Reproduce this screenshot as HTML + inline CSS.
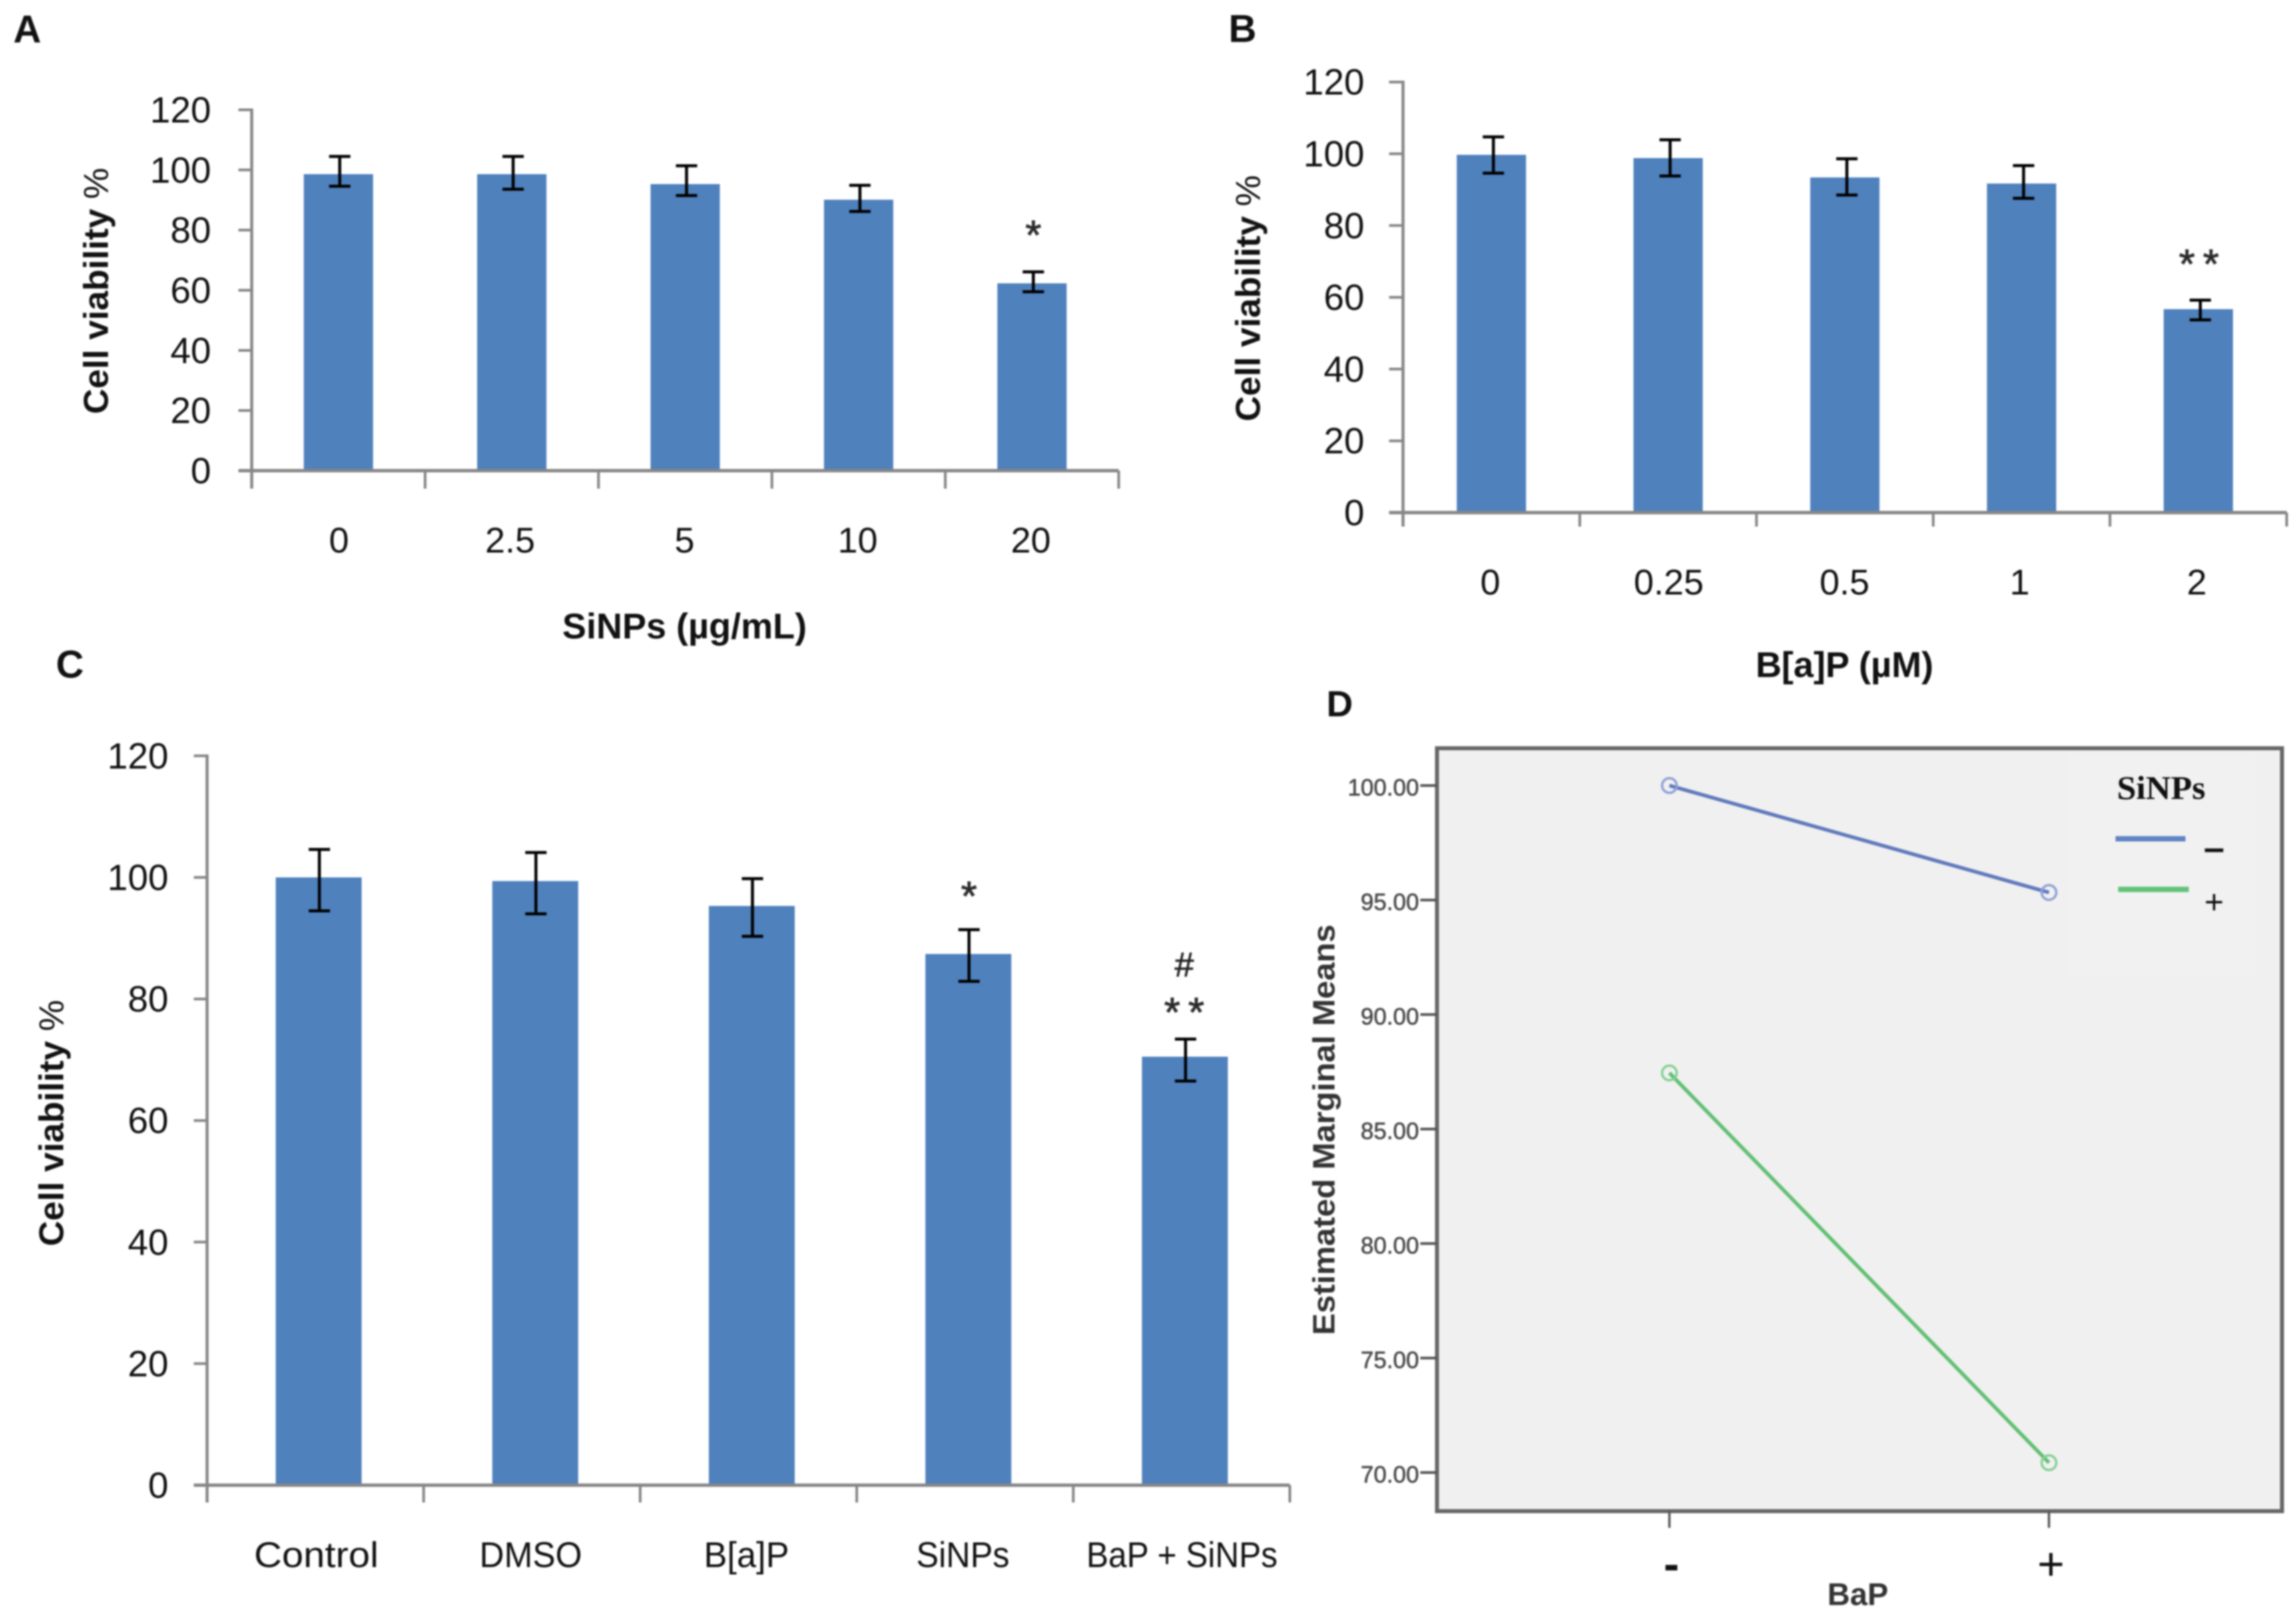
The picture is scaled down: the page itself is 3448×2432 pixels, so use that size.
<!DOCTYPE html>
<html>
<head>
<meta charset="utf-8">
<title>Cell viability panels</title>
<style>
html,body{margin:0;padding:0;background:#fff;width:3448px;height:2432px;overflow:hidden}
svg{display:block;filter:blur(1.2px)}
</style>
</head>
<body>
<svg id="fig" xmlns="http://www.w3.org/2000/svg" width="3448" height="2432" viewBox="0 0 3448 2432">
<rect x="0" y="0" width="3448" height="2432" fill="#ffffff"/>
</svg>
<script>
// Shared tick labels
const yTicksViability = [0, 20, 40, 60, 80, 100, 120];

// Panel A
const categoriesA = ['0', '2.5', '5', '10', '20'];
const valuesA = [98.6, 98.6, 95.3, 90.1, 62.3];
const errHighA = [104.5, 104.5, 101.4, 94.9, 66.1];
const errLowA = [94.6, 93.6, 91.5, 86.2, 59.5];
const marksA = [[], [], [], [], ['*']];

// Panel B
const categoriesB = ['0', '0.25', '0.5', '1', '2'];
const valuesB = [99.7, 98.8, 93.4, 91.7, 56.7];
const errHighB = [104.7, 103.9, 98.6, 96.7, 59.2];
const errLowB = [94.6, 93.8, 88.5, 87.6, 53.7];
const marksB = [[], [], [], [], ['**']];

// Panel C
const categoriesC = ['Control', 'DMSO', 'B[a]P', 'SiNPs', 'BaP + SiNPs'];
const valuesC = [100.0, 99.4, 95.3, 87.4, 70.5];
const errHighC = [104.6, 104.1, 99.8, 91.4, 73.4];
const errLowC = [94.5, 94.0, 90.3, 82.9, 66.5];
const marksC = [[], [], [], ['*'], ['**', '#']];

// Panel D
const categoriesD = ['-', '+'];
const seriesMinusD = [100.0, 95.33];
const seriesPlusD = [87.45, 70.43];
const yTicksD = [70, 75, 80, 85, 90, 95, 100];

const SVGNS = 'http://www.w3.org/2000/svg';
const fig = document.getElementById('fig');
const SANS = '"Liberation Sans", sans-serif';
const SERIF = '"Liberation Serif", serif';

function drawLine(name, x1, y1, x2, y2, stroke, width) {
  const el = document.createElementNS(SVGNS, 'line');
  
  
  el.setAttribute('x1', x1);
  el.setAttribute('y1', y1);
  el.setAttribute('x2', x2);
  el.setAttribute('y2', y2);
  el.setAttribute('stroke', stroke);
  el.setAttribute('stroke-width', width);
  fig.appendChild(el);
  return el;
}

function drawRect(name, x, y, w, h, fill, stroke, strokeWidth) {
  const el = document.createElementNS(SVGNS, 'rect');
  
  
  el.setAttribute('x', x);
  el.setAttribute('y', y);
  el.setAttribute('width', w);
  el.setAttribute('height', h);
  el.setAttribute('fill', fill);
  if (stroke) {
    el.setAttribute('stroke', stroke);
    el.setAttribute('stroke-width', strokeWidth);
  }
  fig.appendChild(el);
  return el;
}

function drawCircle(name, cx, cy, r, stroke, width) {
  const el = document.createElementNS(SVGNS, 'circle');
  
  
  el.setAttribute('cx', cx);
  el.setAttribute('cy', cy);
  el.setAttribute('r', r);
  el.setAttribute('fill', 'none');
  el.setAttribute('stroke', stroke);
  el.setAttribute('stroke-width', width);
  fig.appendChild(el);
  return el;
}

function drawText(name, x, y, str, size, o) {
  const opt = o || {};
  const el = document.createElementNS(SVGNS, 'text');
  
  
  el.setAttribute('x', x);
  el.setAttribute('y', y);
  el.setAttribute('font-size', size);
  el.setAttribute('font-family', opt.family || SANS);
  el.setAttribute('font-weight', opt.weight || 'normal');
  el.setAttribute('fill', opt.fill || '#111111');
  el.setAttribute('text-anchor', opt.anchor || 'start');
  if (opt.width) {
    el.setAttribute('textLength', opt.width);
    el.setAttribute('lengthAdjust', 'spacingAndGlyphs');
  }
  if (opt.spacing) {
    el.setAttribute('letter-spacing', opt.spacing);
  }
  if (opt.outline) {
    el.setAttribute('stroke', opt.fill || '#111111');
    el.setAttribute('stroke-width', opt.outline);
  }
  if (opt.rotate) {
    el.setAttribute('transform', 'rotate(' + opt.rotate + ' ' + x + ' ' + y + ')');
  }
  el.textContent = str;
  fig.appendChild(el);
  return el;
}

function drawBarPanel(p) {
  const y = function (v) { return p.zeroY - v * p.unit; };
  const band = (p.right - p.left) / p.categories.length;
  const x = function (i) { return p.left + (i + 0.5) * band + p.barShift; };
  const AXIS = '#868686';

  p.categories.forEach(function (c, i) {
    const cx = x(i);
    drawRect(p.id + '-bar-' + i, cx - p.barWidth / 2, y(p.values[i]), p.barWidth, p.zeroY - y(p.values[i]), '#4f81bd');
    const ex = cx + p.errShift;
    drawLine(p.id + '-error-stem-' + i, ex, y(p.errHigh[i]), ex, y(p.errLow[i]), '#000000', 4.5);
    drawLine(p.id + '-error-cap-high-' + i, ex - 16, y(p.errHigh[i]), ex + 16, y(p.errHigh[i]), '#000000', 4.5);
    drawLine(p.id + '-error-cap-low-' + i, ex - 16, y(p.errLow[i]), ex + 16, y(p.errLow[i]), '#000000', 4.5);
    p.marks[i].forEach(function (m, k) {
      const cy = y(p.errHigh[i]) - p.markGap[i] - k * 66;
      if (m === '#') {
        drawText(p.id + '-hash-mark', ex - 2, cy + 19, m, 52, {anchor: 'middle', fill: '#222222', outline: 0.8});
      } else {
        drawText(p.id + '-significance-mark-' + i, ex + (m.length > 1 ? 4 : 0), cy + 28, m, 62, {anchor: 'middle', fill: '#2a2a2a', spacing: m.length > 1 ? 12 : 0, outline: 1});
      }
    });
    drawText(p.id + '-x-label-' + i, p.labelX[i], p.xLabelBase, c, 54, {anchor: 'middle', width: p.labelWidths ? p.labelWidths[i] : 0});
  });

  drawLine(p.id + '-y-axis', p.left, y(120) - 2, p.left, p.zeroY + p.tickDown, AXIS, 4.5);
  drawLine(p.id + '-x-axis', p.left - p.tickLeft, p.zeroY, p.right, p.zeroY, AXIS, 5);
  for (let i = 1; i <= p.categories.length; i++) {
    drawLine(p.id + '-x-tick-' + i, p.left + i * band, p.zeroY, p.left + i * band, p.zeroY + p.tickDown, AXIS, 4);
  }
  yTicksViability.forEach(function (t) {
    if (t !== 0) {
      drawLine(p.id + '-y-tick-' + t, p.left - p.tickLeft, y(t), p.left, y(t), AXIS, 4);
    }
    drawText(p.id + '-y-label-' + t, p.labelRight, y(t) + 19, String(t), 55, {anchor: 'end'});
  });

  const title = drawText(p.id + '-y-axis-title', p.titleX, p.titleY, 'Cell viability ', 52, {anchor: 'middle', weight: 'bold', rotate: -90, width: 370});
  const pct = document.createElementNS(SVGNS, 'tspan');
  pct.setAttribute('font-weight', 'normal');
  pct.textContent = '%';
  title.appendChild(pct);

  if (p.xTitle) {
    drawText(p.id + '-x-axis-title', p.xTitleX, p.xTitleBase, p.xTitle, 54, {anchor: 'middle', weight: 'bold'});
  }
  drawText(p.id + '-panel-label', p.tagX, p.tagBase, p.tag, 58, {weight: 'bold'});
}

drawBarPanel({
  id: 'panel-a', tag: 'A', tagX: 20, tagBase: 64,
  categories: categoriesA, values: valuesA, errHigh: errHighA, errLow: errLowA, marks: marksA,
  left: 378, right: 1680, zeroY: 707, unit: 4.517, barWidth: 104, barShift: 0, errShift: 2,
  markGap: [0, 0, 0, 0, 62], tickDown: 27, tickLeft: 20, labelRight: 317,
  labelX: [509, 766, 1028, 1288, 1548], xLabelBase: 830,
  titleX: 162, titleY: 437, xTitle: 'SiNPs (\u00b5g/mL)', xTitleX: 1028, xTitleBase: 959
});

drawBarPanel({
  id: 'panel-b', tag: 'B', tagX: 1845, tagBase: 63,
  categories: categoriesB, values: valuesB, errHigh: errHighB, errLow: errLowB, marks: marksB,
  left: 2107, right: 3434, zeroY: 770, unit: 5.39, barWidth: 104, barShift: 0, errShift: 3,
  markGap: [0, 0, 0, 0, 61], tickDown: 21, tickLeft: 21, labelRight: 2049,
  labelX: [2238, 2506, 2770, 3033, 3299], xLabelBase: 893,
  titleX: 1892, titleY: 448, xTitle: 'B[a]P  (\u00b5M)', xTitleX: 2770, xTitleBase: 1017
});

drawBarPanel({
  id: 'panel-c', tag: 'C', tagX: 84, tagBase: 1018,
  categories: categoriesC, values: valuesC, errHigh: errHighC, errLow: errLowC, marks: marksC,
  left: 311, right: 1937, zeroY: 2231, unit: 9.13, barWidth: 129, barShift: 5, errShift: 1,
  markGap: [0, 0, 0, 57, 47], tickDown: 26, tickLeft: 20, labelRight: 253,
  labelX: [475, 797, 1121, 1446, 1775], xLabelBase: 2354,
  labelWidths: [187, 154, 128, 140, 287],
  titleX: 95, titleY: 1687, xTitle: '', xTitleX: 0, xTitleBase: 0
});

// Panel D: interaction line chart
(function () {
  const left = 2158, right = 3427, top = 1124, bottom = 2270;
  const y = function (v) { return 2212 - (v - 70) * 34.4; };
  const x = function (i) { return left + 349 + i * 570; };
  const AX = '#666666';

  drawRect('panel-d-plot-area', left, top, right - left, bottom - top, '#f0f0f0', AX, 6);
  drawRect('panel-d-legend-box', 3106, 1133, 281, 333, '#f1f1f1');

  yTicksD.forEach(function (t) {
    drawLine('panel-d-y-tick-' + t, left - 25, y(t), left, y(t), '#555555', 4);
    drawText('panel-d-y-label-' + t, left - 27, y(t) + 15, t.toFixed(2), 35, {anchor: 'end', fill: '#4a4a4a', outline: 0.7});
  });

  categoriesD.forEach(function (c, i) {
    drawLine('panel-d-x-tick-' + i, x(i), bottom, x(i), bottom + 25, '#555555', 3.5);
    drawText('panel-d-x-label-' + i, x(i) + 3, 2373, c, 70, {anchor: 'middle', weight: c === '-' ? 'bold' : 'normal', fill: '#111111'});
  });

  function series(name, values, stroke, marker) {
    drawLine(name + '-line', x(0), y(values[0]), x(1), y(values[1]), stroke, 5.5);
    values.forEach(function (v, i) {
      drawCircle(name + '-point-' + i, x(i), y(v), 11, marker, 3.5);
    });
  }
  series('panel-d-series-minus', seriesMinusD, '#6079bd', '#8c9fd8');
  series('panel-d-series-plus', seriesPlusD, '#62bf73', '#82d092');

  drawText('panel-d-y-axis-title', 2004, 1697, 'Estimated Marginal Means', 46, {anchor: 'middle', weight: 'bold', fill: '#333333', rotate: -90, width: 617});
  drawText('panel-d-x-axis-title', 2790, 2411, 'BaP', 47, {anchor: 'middle', weight: 'bold', fill: '#333333'});
  drawText('panel-d-legend-title', 3179, 1200, 'SiNPs', 50, {family: SERIF, weight: 'bold', fill: '#111111', width: 133});
  drawLine('panel-d-legend-line-minus', 3177, 1260, 3282, 1260, '#5f83c4', 8);
  drawLine('panel-d-legend-line-plus', 3181, 1336, 3287, 1336, '#62c277', 8);
  drawText('panel-d-legend-label-minus', 3325, 1292, '\u2013', 56, {anchor: 'middle', weight: 'bold'});
  drawText('panel-d-legend-label-plus', 3325, 1372, '+', 50, {anchor: 'middle'});
  drawText('panel-d-panel-label', 1992, 1076, 'D', 55, {weight: 'bold'});
})();
</script>
</body>
</html>
